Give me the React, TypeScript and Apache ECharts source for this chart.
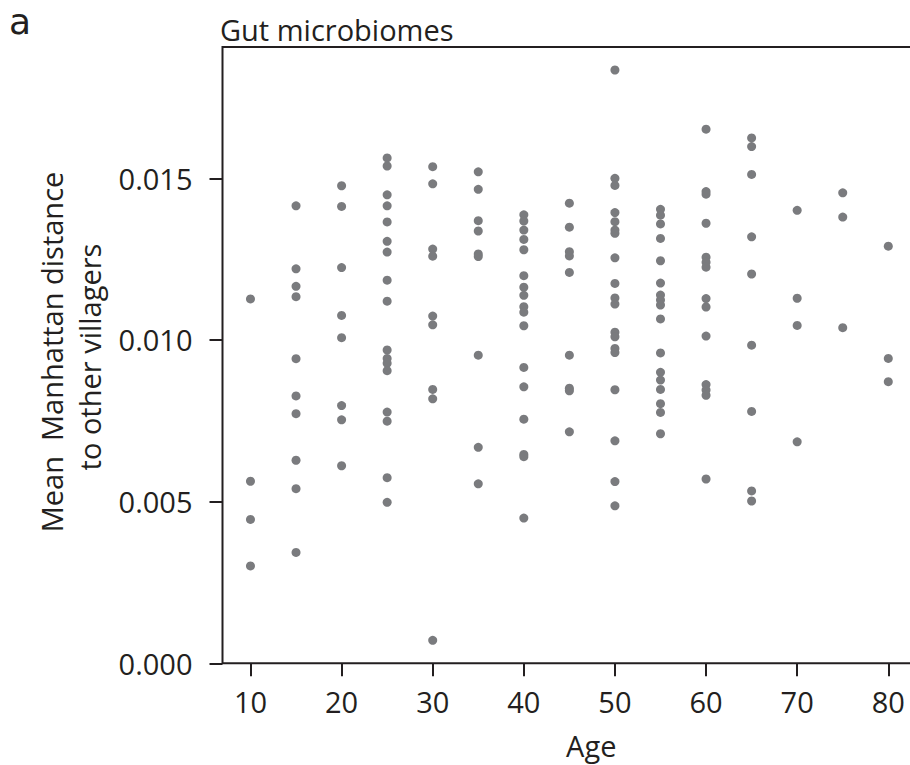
import React, { useEffect, useRef } from "react";
import * as echarts from "echarts";

const AGES = [10, 15, 20, 25, 30, 35, 40, 45, 50, 55, 60, 65, 70, 75, 80];

const DIST_AGE10 = [0.01127, 0.00563, 0.00445, 0.00301];
const DIST_AGE15 = [0.01415, 0.0122, 0.01166, 0.01134, 0.00942, 0.00827, 0.00772, 0.00628, 0.0054, 0.00343];
const DIST_AGE20 = [0.01477, 0.01413, 0.01224, 0.01076, 0.01007, 0.00797, 0.00753, 0.00611];
const DIST_AGE25 = [0.01563, 0.01538, 0.01449, 0.01415, 0.01365, 0.01305, 0.01272, 0.01185, 0.0112, 0.00969, 0.00943, 0.00928, 0.00905, 0.00777, 0.00749, 0.00574, 0.00498];
const DIST_AGE30 = [0.01536, 0.01483, 0.01281, 0.01259, 0.01074, 0.01047, 0.00847, 0.00818, 0.00071];
const DIST_AGE35 = [0.0152, 0.01466, 0.01369, 0.01337, 0.01266, 0.01258, 0.00953, 0.00668, 0.00555];
const DIST_AGE40 = [0.01387, 0.01368, 0.0134, 0.01311, 0.01279, 0.01199, 0.01163, 0.01138, 0.01103, 0.01086, 0.01044, 0.00915, 0.00855, 0.00755, 0.00646, 0.00639, 0.00449];
const DIST_AGE45 = [0.01423, 0.01349, 0.01273, 0.0126, 0.01209, 0.00953, 0.00851, 0.00843, 0.00716];
const DIST_AGE50 = [0.01835, 0.015, 0.01478, 0.01394, 0.01366, 0.0134, 0.0133, 0.01254, 0.01175, 0.0113, 0.01111, 0.01024, 0.0101, 0.00974, 0.00961, 0.00846, 0.00688, 0.00562, 0.00487];
const DIST_AGE55 = [0.01404, 0.01386, 0.01359, 0.01314, 0.01245, 0.01176, 0.01139, 0.01124, 0.01108, 0.01065, 0.0096, 0.009, 0.00876, 0.00847, 0.00803, 0.00776, 0.0071];
const DIST_AGE60 = [0.01652, 0.01459, 0.01451, 0.01361, 0.01256, 0.0124, 0.01225, 0.01128, 0.01102, 0.01012, 0.00862, 0.00845, 0.00829, 0.0057];
const DIST_AGE65 = [0.01625, 0.01598, 0.01512, 0.01319, 0.01204, 0.00984, 0.00779, 0.00533, 0.00502];
const DIST_AGE70 = [0.01401, 0.01129, 0.01045, 0.00685];
const DIST_AGE75 = [0.01455, 0.0138, 0.01038];
const DIST_AGE80 = [0.0129, 0.00943, 0.00871];

const DIST_BY_AGE = [
  DIST_AGE10, DIST_AGE15, DIST_AGE20, DIST_AGE25, DIST_AGE30,
  DIST_AGE35, DIST_AGE40, DIST_AGE45, DIST_AGE50, DIST_AGE55,
  DIST_AGE60, DIST_AGE65, DIST_AGE70, DIST_AGE75, DIST_AGE80,
];

const X_TICKS = [10, 20, 30, 40, 50, 60, 70, 80];
const Y_TICKS = [0, 0.005, 0.01, 0.015];

const TITLE = "Gut microbiomes";
const PANEL = "a";
const X_NAME = "Age";
const Y_NAME_1 = "Mean  Manhattan distance";
const Y_NAME_2 = "to other villagers";

const INK = "#231f20";
const DOT = "#7a7b7e";
const FONT = '"Open Sans", "Noto Sans", sans-serif';

export default function App() {
  const ref = useRef<HTMLDivElement>(null);

  useEffect(() => {
    if (!ref.current) return;
    const chart = echarts.init(ref.current, null, { renderer: "svg" });

    const points: number[][] = [];
    AGES.forEach((age, i) => {
      DIST_BY_AGE[i].forEach((v) => points.push([age, v]));
    });

    chart.setOption({
      animation: false,
      backgroundColor: "#ffffff",
      grid: {
        left: 222.5,
        top: 47,
        right: -50,
        bottom: 101.7,
        containLabel: false,
        outerBoundsMode: "none",
        show: true,
        borderColor: INK,
        borderWidth: 2,
        backgroundColor: "transparent",
      },
      xAxis: {
        type: "value",
        min: 6.93,
        max: 87.87,
        axisLine: { show: false },
        splitLine: { show: false },
        axisTick: {
          show: true,
          inside: false,
          length: 13,
          customValues: X_TICKS,
          lineStyle: { color: INK, width: 2 },
        },
        axisLabel: {
          customValues: X_TICKS,
          margin: 24,
          color: INK,
          fontFamily: FONT,
          fontSize: 29,
        },
        name: X_NAME,
        nameLocation: "middle",
        nameGap: 68,
        nameTextStyle: { color: INK, fontFamily: FONT, fontSize: 29 },
      },
      yAxis: {
        type: "value",
        min: 0,
        max: 0.019061,
        axisLine: { show: false },
        splitLine: { show: false },
        axisTick: {
          show: true,
          inside: false,
          length: 13,
          customValues: Y_TICKS,
          lineStyle: { color: INK, width: 2 },
        },
        axisLabel: {
          customValues: Y_TICKS,
          margin: 30,
          color: INK,
          fontFamily: FONT,
          fontSize: 29,
          formatter: (v: number) => v.toFixed(3),
        },
      },
      graphic: [
        {
          type: "text",
          x: 9,
          y: 21,
          style: {
            text: PANEL,
            font: '36px "DejaVu Sans", sans-serif',
            fill: INK,
            textAlign: "left",
            textVerticalAlign: "middle",
          },
        },
        {
          type: "text",
          x: 220,
          y: 29,
          style: {
            text: TITLE,
            font: `29px ${FONT}`,
            fill: INK,
            textAlign: "left",
            textVerticalAlign: "middle",
          },
        },
        {
          type: "text",
          x: 51,
          y: 352,
          rotation: Math.PI / 2,
          style: {
            text: Y_NAME_1,
            font: `29px ${FONT}`,
            fill: INK,
            textAlign: "center",
            textVerticalAlign: "middle",
          },
        },
        {
          type: "text",
          x: 89,
          y: 357,
          rotation: Math.PI / 2,
          style: {
            text: Y_NAME_2,
            font: `29px ${FONT}`,
            fill: INK,
            textAlign: "center",
            textVerticalAlign: "middle",
          },
        },
      ],
      series: [
        {
          type: "scatter",
          data: points,
          symbol: "circle",
          symbolSize: 9,
          itemStyle: { color: DOT, opacity: 1 },
          clip: false,
        },
      ],
    });

    return () => chart.dispose();
  }, []);

  return (
    <div
      ref={ref}
      style={{ position: "absolute", left: 0, top: 0, width: 910, height: 765 }}
    />
  );
}
